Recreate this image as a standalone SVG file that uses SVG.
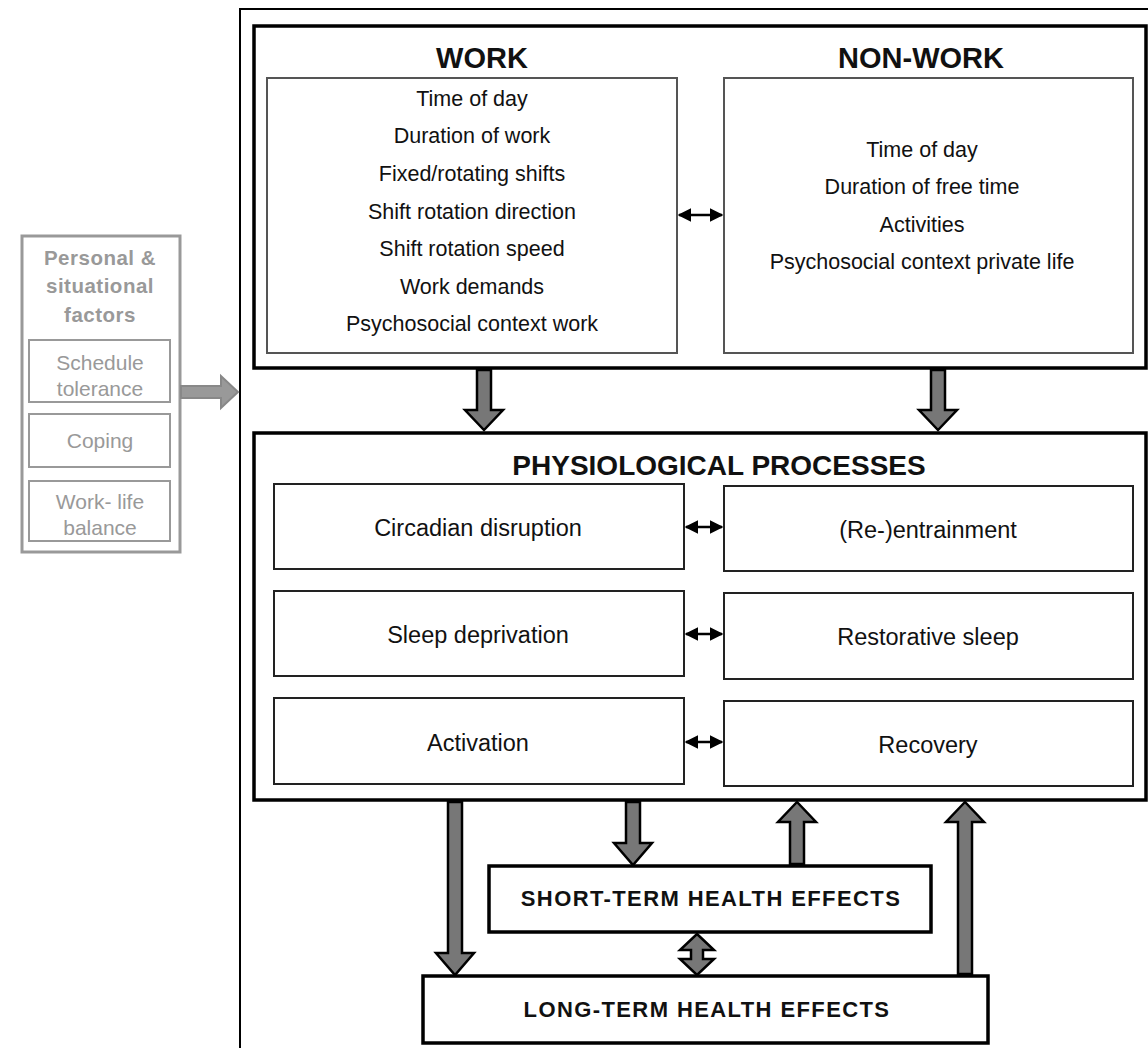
<svg xmlns="http://www.w3.org/2000/svg" width="1148" height="1048" viewBox="0 0 1148 1048">
<style>
text{font-family:"Liberation Sans",Arial,sans-serif;text-anchor:middle;fill:#111}
.item{font-size:21.5px}
.pitem{font-size:23.5px}
.title{font-size:29px;font-weight:bold}
.ptitle{font-size:28px;font-weight:bold}
.htitle{font-size:22px;font-weight:bold;letter-spacing:1.4px}
.thick{fill:#fff;stroke:#000;stroke-width:3.5}
.thin{fill:#fff;stroke:#222;stroke-width:2}
.inner{fill:#fff;stroke:#555;stroke-width:2}
.gbox{fill:#fff;stroke:#999;stroke-width:3}
.gin{fill:#fff;stroke:#999;stroke-width:2}
.gt{fill:#999;font-size:21px}
.gtb{fill:#999;font-size:20.5px;font-weight:bold;letter-spacing:0.5px}
.block{fill:#777;stroke:#000;stroke-width:2.5;stroke-linejoin:miter}
.dbl{stroke:#000;stroke-width:2.5;fill:none;marker-start:url(#ah);marker-end:url(#ah)}
</style>
<defs>
<marker id="ah" viewBox="0 0 10 10" refX="9" refY="5" markerWidth="5.5" markerHeight="5.5" orient="auto-start-reverse" markerUnits="strokeWidth">
<path d="M0,0 L10,5 L0,10 z" fill="#000"/>
</marker>
</defs>
<rect width="1148" height="1048" fill="#fff"/>
<path d="M240,1048 V9 H1148" fill="none" stroke="#000" stroke-width="2"/>

<g id="personal">
<rect class="gbox" x="22" y="236" width="158" height="316"/>
<text class="gtb" x="100" y="265">Personal &amp;</text>
<text class="gtb" x="100" y="293">situational</text>
<text class="gtb" x="100" y="322">factors</text>
<rect class="gin" x="29" y="340" width="141" height="62"/>
<text class="gt" x="100" y="370">Schedule</text>
<text class="gt" x="100" y="396">tolerance</text>
<rect class="gin" x="29" y="414" width="141" height="53"/>
<text class="gt" x="100" y="448">Coping</text>
<rect class="gin" x="29" y="481" width="141" height="60"/>
<text class="gt" x="100" y="509">Work- life</text>
<text class="gt" x="100" y="535">balance</text>
</g>

<g id="workframe">
<rect class="thick" x="254" y="26" width="892" height="342"/>
</g>
<g id="work">
<text class="title" x="482" y="68">WORK</text>
<rect class="inner" x="267" y="78" width="410" height="275"/>
<text class="item" x="472" y="106">Time of day</text>
<text class="item" x="472" y="143">Duration of work</text>
<text class="item" x="472" y="181">Fixed/rotating shifts</text>
<text class="item" x="472" y="219">Shift rotation direction</text>
<text class="item" x="472" y="256">Shift rotation speed</text>
<text class="item" x="472" y="294">Work demands</text>
<text class="item" x="472" y="331">Psychosocial context work</text>
</g>
<g id="nonwork">
<text class="title" x="921" y="68">NON-WORK</text>
<rect class="inner" x="724" y="78" width="409" height="275"/>
<text class="item" x="922" y="157">Time of day</text>
<text class="item" x="922" y="194">Duration of free time</text>
<text class="item" x="922" y="232">Activities</text>
<text class="item" x="922" y="269">Psychosocial context private life</text>
</g>

<g id="physio">
<rect class="thick" x="254" y="433" width="892" height="367"/>
<text class="ptitle" x="719" y="475">PHYSIOLOGICAL PROCESSES</text>
</g>
<g id="circadian"><rect class="thin" x="274" y="484" width="410" height="85"/><text class="pitem" x="478" y="536">Circadian disruption</text></g>
<g id="reentrain"><rect class="thin" x="724" y="486" width="409" height="85"/><text class="pitem" x="928" y="538">(Re-)entrainment</text></g>
<g id="sleepdep"><rect class="thin" x="274" y="591" width="410" height="85"/><text class="pitem" x="478" y="643">Sleep deprivation</text></g>
<g id="restore"><rect class="thin" x="724" y="593" width="409" height="86"/><text class="pitem" x="928" y="645">Restorative sleep</text></g>
<g id="activation"><rect class="thin" x="274" y="698" width="410" height="86"/><text class="pitem" x="478" y="751">Activation</text></g>
<g id="recovery"><rect class="thin" x="724" y="701" width="409" height="85"/><text class="pitem" x="928" y="753">Recovery</text></g>

<g id="shortterm"><rect class="thick" x="489" y="866" width="442" height="66"/><text class="htitle" x="711" y="906">SHORT-TERM HEALTH EFFECTS</text></g>
<g id="longterm"><rect class="thick" x="423" y="976" width="565" height="67"/><text class="htitle" x="707" y="1017">LONG-TERM HEALTH EFFECTS</text></g>

<g id="connectors">
<polygon points="181,386 221,386 221,376 238,392 221,408 221,398 181,398" fill="#999" stroke="#888" stroke-width="2"/>
<line class="dbl" x1="679" y1="215" x2="722" y2="215"/>
<line class="dbl" x1="686" y1="527" x2="722" y2="527"/>
<line class="dbl" x1="686" y1="634" x2="722" y2="634"/>
<line class="dbl" x1="686" y1="742" x2="722" y2="742"/>
<polygon class="block" points="477,370 491,370 491,410 503,410 484,430 465,410 477,410"/>
<polygon class="block" points="931,370 945,370 945,410 957,410 938,430 919,410 931,410"/>
<polygon class="block" points="448,802 462,802 462,953 474,953 455,975 436,953 448,953"/>
<polygon class="block" points="626,802 640,802 640,843 652,843 633,865 614,843 626,843"/>
<polygon class="block" points="790,864 804,864 804,822 816,822 797,802 778,822 790,822"/>
<polygon class="block" points="958,974 972,974 972,822 984,822 965,802 946,822 958,822"/>
<polygon class="block" points="697,934 714,950 703,950 703,959 714,959 697,975 680,959 691,959 691,950 680,950"/>
</g>
</svg>
